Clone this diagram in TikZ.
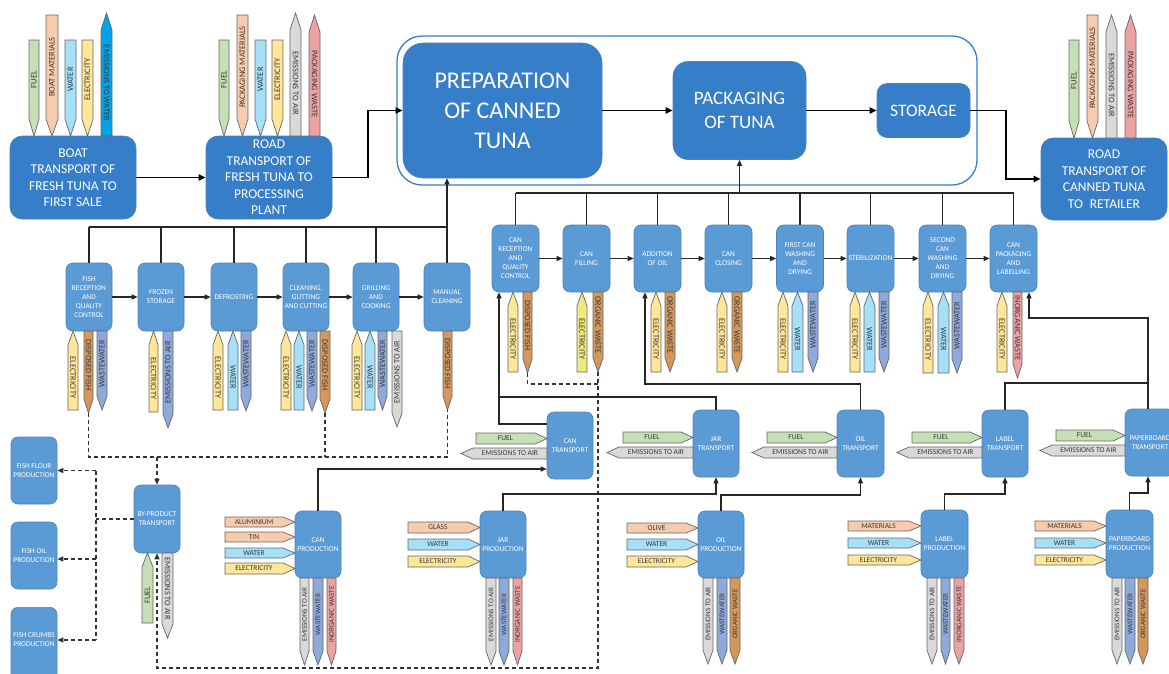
\documentclass[tikz,border=0pt]{standalone}
\usepackage{fontspec}
\setmainfont{Carlito}
\usetikzlibrary{arrows.meta}

\definecolor{nodedark}{HTML}{377EC8}
\definecolor{nodelight}{HTML}{5B9BD5}
\definecolor{nodeedge}{HTML}{4A82BE}
\definecolor{cfuel}{HTML}{C5E0B4}
\definecolor{cmat}{HTML}{F8CBAD}
\definecolor{cwater}{HTML}{A6E0F8}
\definecolor{celec}{HTML}{FFE699}
\definecolor{celectwo}{HTML}{EEEA7E}
\definecolor{cair}{HTML}{D9D9D9}
\definecolor{cinorg}{HTML}{EAA2A2}
\definecolor{cwaste}{HTML}{8EA9DB}
\definecolor{corg}{HTML}{D4985C}
\definecolor{cemw}{HTML}{00A2E8}

% font size of the flow labels, changed per block
\def\flowfs{8.5}
% tip length of vertical and horizontal flow arrows
\def\tiplen{17}
\def\htip{12}

\tikzset{
  flow/.style={draw=black!60, line width=0.7pt},
  flowtxt/.style={font=\fontsize{\flowfs}{\flowfs}\selectfont, text=black!78, inner sep=0pt},
  bigbox/.style={rounded corners=12pt, fill=nodedark, draw=nodeedge, line width=0.6pt,
     text=white, align=center, inner sep=0pt, font=\fontsize{13.5}{16.5}\selectfont},
  smallbox/.style={rounded corners=7pt, fill=nodelight, draw=nodeedge, line width=0.6pt,
     text=white, align=center, inner sep=0pt, minimum width=46pt,
     font=\fontsize{7.4}{9}\selectfont},
  smalltxt/.style={text=white, align=center, inner sep=0pt, font=\fontsize{7.4}{9}\selectfont},
  stage/.style={draw=nodedark, line width=1.3pt, rounded corners=25pt, fill=white},
  mainline/.style={line width=1.7pt, -{Triangle[length=7pt,width=6pt]}},
  busline/.style={line width=1.1pt, draw=black!85},
  busarrow/.style={busline, -{Triangle[length=6pt,width=5pt]}},
  dashline/.style={line width=1.3pt, draw=black!80, dash pattern=on 4pt off 3pt},
  dasharrow/.style={dashline, -{Triangle[length=6pt,width=5pt]}},
}

% vertical flow, tip at the bottom: name, x1, x2, ytop, ybot, fill, text, rotation
\newcommand\flowdown[8]{%
  \path[flow,fill=#6] (#2,#4) -- (#3,#4) -- (#3,{#5-\tiplen}) -- ({(#2+#3)/2},#5) -- (#2,{#5-\tiplen}) -- cycle;
  \node[flowtxt,rotate=#8] (#1) at ({(#2+#3)/2},{(#4+#5-\tiplen)/2}) {#7};
  \coordinate (#1-tip) at ({(#2+#3)/2},#5);}
% vertical flow, tip at the top
\newcommand\flowup[8]{%
  \path[flow,fill=#6] (#2,#5) -- (#3,#5) -- (#3,{#4+\tiplen}) -- ({(#2+#3)/2},#4) -- (#2,{#4+\tiplen}) -- cycle;
  \node[flowtxt,rotate=#8] (#1) at ({(#2+#3)/2},{(#4+\tiplen+#5)/2}) {#7};
  \coordinate (#1-tip) at ({(#2+#3)/2},#4);}
% horizontal flow pointing right: name, xl, xr, ytop, ybot, fill, text
\newcommand\flowright[7]{%
  \path[flow,fill=#6] (#2,#4) -- ({#3-\htip},#4) -- (#3,{(#4+#5)/2}) -- ({#3-\htip},#5) -- (#2,#5) -- cycle;
  \node[flowtxt] (#1) at ({(#2+#3-\htip)/2},{(#4+#5)/2}) {#7};}
% horizontal flow pointing left
\newcommand\flowleft[7]{%
  \path[flow,fill=#6] (#3,#4) -- ({#2+\htip},#4) -- (#2,{(#4+#5)/2}) -- ({#2+\htip},#5) -- (#3,#5) -- cycle;
  \node[flowtxt] (#1) at ({(#2+\htip+#3)/2},{(#4+#5)/2}) {#7};}

\begin{document}
\begin{tikzpicture}[x=1pt,y=-1pt]
\useasboundingbox (0,0) rectangle (1169,673);
\clip (0,0) rectangle (1169,673);
\fill[white] (0,0) rectangle (1169,673);

% ---------- main chain ----------
\node[stage, minimum width=580pt, minimum height=149pt] (stagebox) at (687,110.5) {};
\node[bigbox, minimum width=126pt, minimum height=83pt] (boat) at (73,177.5)
  {BOAT\\TRANSPORT OF\\FRESH TUNA TO\\FIRST SALE};
\node[bigbox, minimum width=126pt, minimum height=83pt] (roadA) at (269,177.5)
  {ROAD\\TRANSPORT OF\\FRESH TUNA TO\\PROCESSING\\PLANT};
\node[bigbox, rounded corners=20pt, minimum width=199pt, minimum height=135pt,
  font=\fontsize{24}{30}\selectfont] (prep) at (502.5,110.5)
  {PREPARATION\\OF CANNED\\TUNA};
\node[bigbox, rounded corners=15pt, minimum width=133pt, minimum height=98pt,
  font=\fontsize{19}{24}\selectfont] (pack) at (739.5,110.5) {PACKAGING\\OF TUNA};
\node[bigbox, rounded corners=10pt, minimum width=93pt, minimum height=54pt,
  font=\fontsize{17.5}{20}\selectfont] (stor) at (923.5,110.5) {STORAGE};
\node[bigbox, minimum width=126pt, minimum height=82pt] (roadB) at (1104,179)
  {ROAD\\TRANSPORT OF\\CANNED TUNA\\TO\enspace RETAILER};

\draw[mainline] (boat.east) -- (roadA.west);
\draw[mainline] (roadA.east) -- (368,177.5) |- (prep.west);
\draw[mainline] (prep.east) -- (pack.west);
\draw[mainline] (pack.east) -- (stor.west);
\draw[mainline] (stor.east) -- (1006,110.5) |- (roadB.west);

% ---------- inputs and outputs of the transports ----------
\def\tiplen{17}\def\flowfs{8.5}
\flowdown{bFuel}{29}{39}{40}{136}{cfuel}{FUEL}{90}
\flowdown{bMat}{46}{58}{15}{136}{cmat}{BOAT MATERIALS}{90}
\flowdown{bWat}{65}{76}{40}{136}{cwater}{WATER}{90}
\flowdown{bEl}{82}{93}{40}{136}{celec}{ELECTRICITY}{90}
\flowup{bEmw}{101}{112}{13}{136}{cemw}{EMISSIONS TO WATER}{-90}

\flowdown{raFuel}{219}{229}{40}{136}{cfuel}{FUEL}{90}
\flowdown{raMat}{237}{248}{15}{136}{cmat}{PACKAGING MATERIALS}{90}
\flowdown{raWat}{255}{266}{40}{136}{cwater}{WATER}{90}
\flowdown{raEl}{272}{283}{40}{136}{celec}{ELECTRICITY}{90}
\flowup{raAir}{290}{301}{13}{136}{cair}{EMISSIONS TO AIR}{-90}
\flowup{raPw}{309}{320}{15}{136}{cinorg}{PACKAGING WASTE}{-90}

\flowdown{rbFuel}{1069}{1079}{40}{138}{cfuel}{FUEL}{90}
\flowdown{rbMat}{1087}{1098}{15}{138}{cmat}{PACKAGING MATERIALS}{90}
\flowup{rbAir}{1106}{1117}{15}{138}{cair}{EMISSIONS TO AIR}{-90}
\flowup{rbPw}{1125}{1136}{15}{138}{cinorg}{PACKAGING WASTE}{-90}

% ---------- preparation steps ----------
\node[smallbox, minimum height=68pt] (fr) at (89,297) {FISH\\RECEPTION\\AND\\QUALITY\\CONTROL};
\node[smallbox, minimum height=68pt] (fs) at (161,297) {FROZEN\\STORAGE};
\node[smallbox, minimum height=68pt] (df) at (234,297) {DEFROSTING};
\node[smallbox, minimum height=68pt] (cg) at (306,297) {CLEANING,\\GUTTING\\AND CUTTING};
\node[smallbox, minimum height=68pt] (gc) at (376,297) {GRILLING\\AND\\COOKING};
\node[smallbox, minimum height=68pt] (mc) at (447,297) {MANUAL\\CLEANING};

\draw[busline] (fr.north |- 0,227) -- (mc.north |- 0,227);
\foreach \n in {fr,fs,df,cg,gc} \draw[busline] (\n.north) -- (\n.north |- 0,227);
\draw[busarrow] (mc.north) -- (mc.north |- prep.south);
\draw[busarrow] (fr.east) -- (fs.west);
\draw[busarrow] (fs.east) -- (df.west);
\draw[busarrow] (df.east) -- (cg.west);
\draw[busarrow] (cg.east) -- (gc.west);
\draw[busarrow] (gc.east) -- (mc.west);

\def\tiplen{14}\def\flowfs{8.3}
\flowup{frEl}{68}{78}{331}{410}{celec}{ELECTRICITY}{-90}
\flowdown{frDf}{84}{93}{331}{413}{corg}{DISPOSED FISH}{-90}
\flowdown{frWw}{97}{107}{331}{410}{cwaste}{WASTEWATER}{90}
\flowup{fsEl}{149}{158}{331}{412}{celec}{ELECTRICITY}{-90}
\flowdown{fsAir}{163}{173}{331}{428}{cwaste}{EMISSIONS TO AIR}{90}
\flowup{dfEl}{213}{223}{331}{410}{celec}{ELECTRICITY}{-90}
\flowup{dfWa}{228}{238}{331}{410}{cwater}{WATER}{-90}
\flowdown{dfWw}{241}{251}{331}{411}{cwaste}{WASTEWATER}{90}
\flowup{cgEl}{281}{291}{331}{410}{celec}{ELECTRICITY}{-90}
\flowup{cgWa}{294}{304}{331}{410}{cwater}{WATER}{-90}
\flowdown{cgWw}{307}{317}{331}{411}{cwaste}{WASTEWATER}{90}
\flowdown{cgDf}{320}{330}{331}{413}{corg}{DISPOSED FISH}{-90}
\flowup{gcEl}{352}{362}{331}{410}{celec}{ELECTRICITY}{-90}
\flowup{gcWa}{365}{375}{331}{410}{cwater}{WATER}{-90}
\flowdown{gcWw}{378}{387}{331}{410}{cwaste}{WASTEWATER}{90}
\flowdown{gcAir}{392}{402}{331}{427}{cair}{EMISSIONS TO AIR}{90}
\flowdown{mcDf}{443}{452}{331}{410}{corg}{DISPOSED FISH}{-90}

% ---------- packaging steps ----------
\node[smallbox, minimum width=47pt, minimum height=67pt] (cr) at (515.5,258.5) {CAN\\RECEPTION\\AND\\QUALITY\\CONTROL};
\node[smallbox, minimum width=47pt, minimum height=67pt] (cf) at (586.5,258.5) {CAN\\FILLING};
\node[smallbox, minimum width=47pt, minimum height=67pt] (ao) at (657.5,258.5) {ADDITION\\OF OIL};
\node[smallbox, minimum width=47pt, minimum height=67pt] (cc) at (728.5,258.5) {CAN\\CLOSING};
\node[smallbox, minimum width=47pt, minimum height=67pt] (wa) at (800,258.5) {FIRST CAN\\WASHING\\AND\\DRYING};
\node[smallbox, minimum width=47pt, minimum height=67pt] (st) at (870.5,258.5) {STERILIZATION};
\node[smallbox, minimum width=47pt, minimum height=67pt] (wb) at (942.5,258.5) {SECOND\\CAN\\WASHING\\AND\\DRYING};
\node[smallbox, minimum width=47pt, minimum height=67pt] (cp) at (1013.5,258.5) {CAN\\PACKAGING\\AND\\LABELLING};

\draw[busline] (cr.north |- 0,193) -- (cp.north |- 0,193);
\foreach \n in {cr,cf,ao,cc,wa,st,wb,cp} \draw[busline] (\n.north) -- (\n.north |- 0,193);
\draw[busarrow] (pack.south |- 0,193) -- (pack.south);
\draw[busarrow] (cr.east) -- (cf.west);
\draw[busarrow] (cf.east) -- (ao.west);
\draw[busarrow] (ao.east) -- (cc.west);
\draw[busarrow] (cc.east) -- (wa.west);
\draw[busarrow] (wa.east) -- (st.west);
\draw[busarrow] (st.east) -- (wb.west);
\draw[busarrow] (wb.east) -- (cp.west);

\flowup{crEl}{508}{518}{292}{372}{celec}{ELECTRICITY}{-90}
\flowdown{crDf}{523}{532}{292}{373}{corg}{DISPOSED FISH}{-90}
\flowup{cfEl}{577}{587}{292}{372}{celectwo}{ELECTRICITY}{-90}
\flowdown{cfOw}{593}{603}{292}{372}{corg}{ORGANIC WASTE}{-90}
\flowup{aoEl}{651}{661}{292}{372}{celec}{ELECTRICITY}{-90}
\flowdown{aoOw}{665}{675}{292}{372}{corg}{ORGANIC WASTE}{-90}
\flowup{ccEl}{717}{727}{292}{372}{celec}{ELECTRICITY}{-90}
\flowdown{ccOw}{732}{742}{292}{372}{corg}{ORGANIC WASTE}{-90}
\flowup{waEl}{778}{788}{292}{372}{celec}{ELECTRICITY}{-90}
\flowup{waWa}{792}{803}{292}{372}{cwater}{WATER}{-90}
\flowdown{waWw}{808}{818}{292}{372}{cwaste}{WASTEWATER}{90}
\flowup{stEl}{850}{860}{292}{372}{celec}{ELECTRICITY}{-90}
\flowup{stWa}{864}{875}{292}{372}{cwater}{WATER}{-90}
\flowdown{stWw}{879}{889}{292}{372}{cwaste}{WASTEWATER}{90}
\flowup{wbEl}{923}{933}{292}{373}{celec}{ELECTRICITY}{-90}
\flowup{wbWa}{938}{949}{292}{373}{cwater}{WATER}{-90}
\flowdown{wbWw}{952}{962}{292}{373}{cwaste}{WASTEWATER}{90}
\flowup{cpEl}{997}{1007}{292}{372}{celec}{ELECTRICITY}{-90}
\flowdown{cpIw}{1013}{1022}{292}{378}{cinorg}{INORGANIC WASTE}{-90}

% ---------- by-products ----------
\node[smallbox, minimum height=67pt] (flour) at (34,470.5) {FISH FLOUR\\PRODUCTION};
\node[smallbox, minimum height=67pt] (foil) at (34,555.5) {FISH OIL\\PRODUCTION};
\node[smallbox, minimum height=90pt, anchor=north] (crumbs) at (34,607) {};
\node[smalltxt] (crumbstxt) at (34,640) {FISH CRUMBS\\PRODUCTION};
\node[smallbox, minimum height=68pt] (byp) at (157,519) {BY-PRODUCT\\TRANSPORT};

\draw[dashline] (frDf-tip) |- (447.5,457) -- (mcDf-tip);
\draw[dashline] (cgDf-tip) -- (cgDf-tip |- 0,457);
\draw[dasharrow] (byp.north |- 0,457) -- (byp.north);
\draw[dashline] (crDf-tip) |- (598,384);
\draw[dasharrow] (cfOw-tip) |- (byp.south |- 0,668) -- (byp.south);
\draw[dashline] (byp.west) -- (96,519);
\draw[dashline] (96,470.5) -- (96,640);
\draw[dasharrow] (96,470.5) -- (flour.east);
\draw[dasharrow] (96,559) -- (foil.east |- 0,559);
\draw[dasharrow] (96,640) -- (crumbs.east |- 0,640);

\flowup{bpFuel}{142}{153}{553}{623}{cfuel}{FUEL}{90}
\flowdown{bpAir}{162}{173}{553}{638}{cair}{EMISSIONS TO AIR}{-90}

% ---------- supply transports ----------
\node[smallbox, minimum height=67pt] (ctr) at (570,445.5) {CAN\\TRANSPORT};
\node[smallbox, minimum height=67pt] (jtr) at (716,443.5) {JAR\\TRANSPORT};
\node[smallbox, minimum height=67pt, minimum width=47pt] (otr) at (860.5,443.5) {OIL\\TRANSPORT};
\node[smallbox, minimum height=67pt] (ltr) at (1005,443.5) {LABEL\\TRANSPORT};
\node[smallbox, minimum height=67pt, minimum width=50pt] (ptr) at (1150,442.5) {PAPERBOARD\\TRANSPORT};

\draw[busarrow] (ctr.west |- 0,424) -| (cr.south -| 499,0);
\draw[busline] (jtr.north) |- (499,397);
\draw[busarrow] (otr.north) |- (645,384) -- (ao.south -| 645,0);
\draw[busline] (ltr.north) |- (1148,383);
\draw[busarrow] (ptr.north -| 1148,0) |- (1029,318) -- (cp.south -| 1029,0);

\def\flowfs{7.5}
\flowright{ctFuel}{476}{547}{433}{444}{cfuel}{FUEL}
\flowleft{ctAir}{461}{547}{448}{459}{cair}{EMISSIONS TO AIR}
\flowright{jtFuel}{623}{693}{432}{443}{cfuel}{FUEL}
\flowleft{jtAir}{607}{693}{447}{458}{cair}{EMISSIONS TO AIR}
\flowright{otFuel}{767}{837}{432}{443}{cfuel}{FUEL}
\flowleft{otAir}{752}{837}{447}{458}{cair}{EMISSIONS TO AIR}
\flowright{ltFuel}{912}{982}{432}{443}{cfuel}{FUEL}
\flowleft{ltAir}{897}{982}{447}{458}{cair}{EMISSIONS TO AIR}
\flowright{ptFuel}{1056}{1125}{430}{441}{cfuel}{FUEL}
\flowleft{ptAir}{1040}{1125}{445}{456}{cair}{EMISSIONS TO AIR}

% ---------- material production ----------
\node[smallbox, minimum height=67pt] (cpr) at (318,544.5) {CAN\\PRODUCTION};
\node[smallbox, minimum height=67pt] (jpr) at (503,544.5) {JAR\\PRODUCTION};
\node[smallbox, minimum height=67pt] (opr) at (721,544.5) {OIL\\PRODUCTION};
\node[smallbox, minimum height=68pt, minimum width=47pt] (lpr) at (944.5,544) {LABEL\\PRODUCTION};
\node[smallbox, minimum height=68pt, minimum width=47pt] (ppr) at (1129.5,544) {PAPERBOARD\\PRODUCTION};

\draw[busarrow] (cpr.north) |- (ctr.west |- 0,469);
\draw[busarrow] (jpr.north) |- (jtr.south |- 0,494) -- (jtr.south);
\draw[busarrow] (opr.north) |- (otr.south |- 0,495) -- (otr.south);
\draw[busarrow] (lpr.north) |- (ltr.south |- 0,494) -- (ltr.south);
\draw[busarrow] (ppr.north) |- (1148,493) -- (ptr.south -| 1148,0);

\flowright{cpAl}{225}{295}{517}{527}{cmat}{ALUMINIUM}
\flowright{cpTin}{225}{295}{532}{542}{cmat}{TIN}
\flowright{cpWa}{225}{295}{548}{558}{cwater}{WATER}
\flowright{cpEl}{225}{295}{563}{574}{celec}{ELECTRICITY}
\flowright{jpGl}{408}{480}{522}{533}{cmat}{GLASS}
\flowright{jpWa}{408}{480}{539}{550}{cwater}{WATER}
\flowright{jpEl}{408}{480}{556}{567}{celec}{ELECTRICITY}
\flowright{opOl}{627}{698}{523}{533}{cmat}{OLIVE}
\flowright{opWa}{627}{698}{539}{550}{cwater}{WATER}
\flowright{opEl}{627}{698}{556}{567}{celec}{ELECTRICITY}
\flowright{lpMa}{848}{921}{521}{531}{cmat}{MATERIALS}
\flowright{lpWa}{848}{921}{538}{548}{cwater}{WATER}
\flowright{lpEl}{848}{921}{555}{565}{celec}{ELECTRICITY}
\flowright{ppMa}{1035}{1106}{521}{531}{cmat}{MATERIALS}
\flowright{ppWa}{1035}{1106}{538}{548}{cwater}{WATER}
\flowright{ppEl}{1035}{1106}{555}{565}{celec}{ELECTRICITY}

\def\flowfs{7.2}
\flowdown{cpAir}{300}{309}{578}{665}{cair}{EMISSIONS TO AIR}{90}
\flowdown{cpWw}{313}{323}{578}{665}{cwaste}{WASTEWATER}{90}
\flowdown{cpIw}{327}{336}{578}{665}{cinorg}{INORGANIC WASTE}{90}
\flowdown{jpAir}{486}{496}{578}{665}{cair}{EMISSIONS TO AIR}{90}
\flowdown{jpWw}{499}{509}{578}{665}{cwaste}{WASTEWATER}{90}
\flowdown{jpIw}{513}{522}{578}{665}{cinorg}{INORGANIC WASTE}{90}
\flowdown{opAir}{703}{713}{578}{664}{cair}{EMISSIONS TO AIR}{90}
\flowdown{opWw}{717}{727}{578}{664}{cwaste}{WASTEWATER}{90}
\flowdown{opOw}{730}{740}{578}{664}{corg}{ORGANIC WASTE}{90}
\flowdown{lpAir}{927}{937}{578}{664}{cair}{EMISSIONS TO AIR}{90}
\flowdown{lpWw}{941}{950}{578}{664}{cwaste}{WASTEWATER}{90}
\flowdown{lpIw}{954}{964}{578}{664}{cinorg}{INORGANIC WASTE}{90}
\flowdown{ppAir}{1112}{1122}{578}{664}{cair}{EMISSIONS TO AIR}{90}
\flowdown{ppWw}{1125}{1135}{578}{664}{cwaste}{WASTEWATER}{90}
\flowdown{ppOw}{1138}{1148}{578}{664}{corg}{ORGANIC WASTE}{90}
\end{tikzpicture}
\end{document}
